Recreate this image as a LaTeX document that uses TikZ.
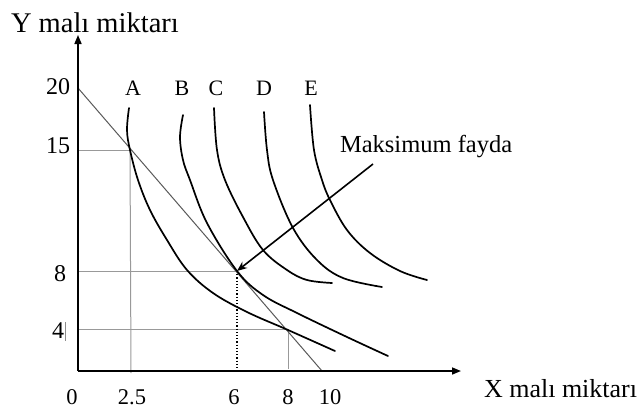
\documentclass[tikz,border=0pt]{standalone}
\usepackage{fontspec}
\setmainfont{Liberation Serif}
\usetikzlibrary{arrows.meta}
\tikzset{
  lbl/.style={inner sep=0pt, outer sep=0pt},
  axis/.style={line width=1.6pt, -{Triangle[length=9pt,width=7pt]}},
  curve/.style={line width=1.7pt, line cap=round},
  budget/.style={line width=1pt, draw=black!65},
  grid/.style={line width=1pt, draw=black!40},
  ptr/.style={line width=1.6pt, -{Stealth[length=10pt,width=8pt]}},
}
\begin{document}
\begin{tikzpicture}[x=1pt,y=-1pt]
\useasboundingbox (0,0) rectangle (640,410);
% key points
\coordinate (O) at (78,371);
\coordinate (Ytop) at (78,35);
\coordinate (Xend) at (461,371);
\coordinate (B20) at (78,88);
\coordinate (B10) at (322,371);
\coordinate (Y15) at (78,150);
\coordinate (P1) at (130,150);
\coordinate (X25) at (131,373);
\coordinate (Y8) at (78,271);
\coordinate (Pm) at (237,271);
\coordinate (X6) at (237,371);
\coordinate (Y4) at (78,329);
\coordinate (P2) at (288,329);
\coordinate (X8) at (288,369);
\coordinate (Astart) at (373,164);
\coordinate (bar1) at (65,322);
\coordinate (bar2) at (65,341);

% grid lines
\draw[grid] (Y15) -- (P1);
\draw[grid] (P1) -- (X25);
\draw[grid] (Y8) -- (Pm);
\draw[grid] (Y4) -- (P2);
\draw[grid] (P2) -- (X8);
\draw[line width=0.8pt, draw=black!45] (bar1) -- (bar2);
\draw[line width=1.2pt, dotted] (Pm) -- (X6);

% budget line
\draw[budget] (B20) -- (B10);

% indifference curves
\draw[curve] plot[smooth, tension=0.6] coordinates {(129,108) (127,130) (130,150) (138,180) (150,210) (167,240) (187,270) (213,293) (247,312) (288,330) (335,351)};
\draw[curve] plot[smooth, tension=0.6] coordinates {(183,115) (180,137) (183,160) (190,180) (207,223) (237,271) (263,295) (297,313) (347,337) (388,356)};
\draw[curve] plot[smooth, tension=0.6] coordinates {(214,108) (217,150) (225,180) (243,217) (263,250) (287,270) (307,280) (332,283)};
\draw[curve] plot[smooth, tension=0.6] coordinates {(264,112) (267,150) (273,180) (293,228) (317,260) (343,278) (382,287)};
\draw[curve] plot[smooth, tension=0.6] coordinates {(310,105) (314,150) (322,180) (330,200) (347,230) (370,253) (400,271) (427,280)};

% axes
\draw[axis] (O) -- (Ytop);
\draw[axis] (O) -- (Xend);

% pointer
\draw[ptr] (Astart) -- (Pm);

% texts
\node[lbl, anchor=base west, font=\fontsize{28.5}{30}\selectfont] (ylab) at (11,32) {Y malı miktarı};
\node[lbl, anchor=base west, font=\fontsize{26}{28}\selectfont] (xlab) at (484,397) {X malı miktarı};
\node[lbl, anchor=base west, font=\fontsize{24.5}{26}\selectfont] (maks) at (340,152) {Maksimum fayda};

\node[lbl, anchor=east, font=\fontsize{24}{26}\selectfont] (t20) at (70,87) {20};
\node[lbl, anchor=east, font=\fontsize{24}{26}\selectfont] (t15) at (70,146) {15};
\node[lbl, anchor=east, font=\fontsize{24}{26}\selectfont] (t8) at (66,274) {8};
\node[lbl, anchor=east, font=\fontsize{24}{26}\selectfont] (t4) at (64,331) {4};

\node[lbl, anchor=base, font=\fontsize{22.5}{24}\selectfont] (x0) at (72,404) {0};
\node[lbl, anchor=base, font=\fontsize{22.5}{24}\selectfont] (x25) at (132,404) {2.5};
\node[lbl, anchor=base, font=\fontsize{22.5}{24}\selectfont] (x6) at (234,404) {6};
\node[lbl, anchor=base, font=\fontsize{22.5}{24}\selectfont] (x8) at (288,404) {8};
\node[lbl, anchor=base, font=\fontsize{22.5}{24}\selectfont] (x10) at (330,404) {10};

\node[lbl, anchor=base, font=\fontsize{22}{24}\selectfont] (lA) at (133,95) {A};
\node[lbl, anchor=base, font=\fontsize{22}{24}\selectfont] (lB) at (182,95) {B};
\node[lbl, anchor=base, font=\fontsize{22}{24}\selectfont] (lC) at (216,95) {C};
\node[lbl, anchor=base, font=\fontsize{22}{24}\selectfont] (lD) at (264,95) {D};
\node[lbl, anchor=base, font=\fontsize{22}{24}\selectfont] (lE) at (311,95) {E};
\end{tikzpicture}
\end{document}
